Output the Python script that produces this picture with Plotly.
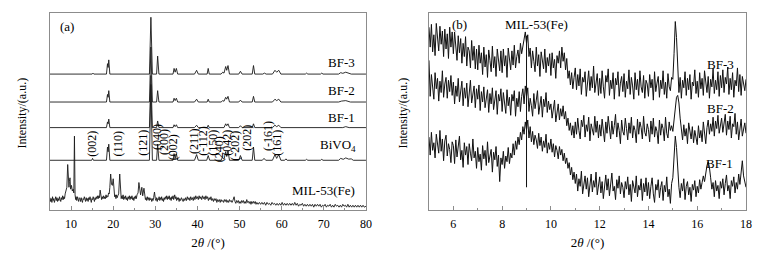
import plotly.graph_objects as go

FONT = "Liberation Serif, Times New Roman, serif"

# ---------------- panel (a): wide-angle XRD, (2theta, intensity above own baseline) ----------------
bf3_a = [(5, 0), (15.0, 0), (15.2, 1), (15.4, 0), (18.4, 0), (18.65, 11), (18.8, 7), (18.95, 15), (19.2, 0),
         (28.6, 0), (28.95, 60), (29.3, 0), (30.3, 0), (30.55, 19), (30.85, 0), (34.2, 0), (34.45, 6), (34.7, 2),
         (35.0, 6), (35.3, 0), (39.3, 0), (39.8, 4), (40.2, 0), (42.3, 0), (42.55, 6), (42.8, 0), (45.6, 0),
         (46.0, 2), (46.3, 1), (46.7, 8), (46.95, 4), (47.25, 9), (47.6, 0), (49.8, 0), (50.2, 3), (50.6, 0),
         (53.0, 0), (53.3, 9), (53.6, 0), (55.5, 0), (55.9, 1), (56.3, 0), (57.8, 0), (58.4, 4), (58.8, 2),
         (59.3, 4), (59.8, 0), (65.6, 0), (65.9, 1), (66.2, 0), (69.2, 0), (69.5, 1), (69.8, 0), (73.5, 0),
         (74.0, 1.5), (74.5, 0.8), (75.2, 2), (75.9, 1.2), (76.5, 0), (80, 0)]
bf2_a = [(5, 0), (18.4, 0), (18.65, 8), (18.8, 5), (18.95, 12), (19.2, 0), (28.6, 0), (28.95, 58), (29.3, 0),
         (30.3, 0), (30.55, 12), (30.85, 0), (34.2, 0), (34.45, 4), (34.7, 1.5), (35.0, 4), (35.3, 0), (39.3, 0),
         (39.8, 3), (40.2, 0), (42.3, 0), (42.55, 3), (42.8, 0), (45.6, 0), (46.0, 1.5), (46.3, 0.8), (46.7, 5),
         (46.95, 3), (47.25, 6), (47.6, 0), (49.8, 0), (50.2, 2), (50.6, 0), (53.0, 0), (53.3, 6), (53.6, 0),
         (57.8, 0), (58.4, 3), (58.8, 1.5), (59.3, 3), (59.8, 0), (73.5, 0), (74.2, 1), (75.2, 1.5), (76.3, 0),
         (80, 0)]
bf1_a = [(5, 0), (18.4, 0), (18.65, 6), (18.8, 4), (18.95, 9), (19.2, 0), (28.6, 0), (28.95, 55), (29.3, 0),
         (30.3, 0), (30.55, 7), (30.85, 0), (34.2, 0), (34.45, 3), (34.7, 1), (35.0, 3), (35.3, 0), (39.3, 0),
         (39.8, 2.5), (40.2, 0), (42.3, 0), (42.55, 2.5), (42.8, 0), (46.3, 0), (46.7, 4), (46.95, 2), (47.25, 4),
         (47.6, 0), (49.8, 0), (50.2, 2), (50.6, 0), (53.0, 0), (53.3, 4), (53.6, 0), (57.8, 0), (58.4, 2.5),
         (58.8, 1), (59.3, 2.5), (59.8, 0), (74.5, 0), (75.2, 1), (76.0, 0), (80, 0)]
bivo4_a = [(5, 0), (14.9, 0), (15.1, 2), (15.3, 0), (18.4, 0), (18.65, 14), (18.8, 9), (18.95, 17), (19.2, 0),
           (28.6, 0), (28.95, 80), (29.3, 0), (30.3, 0), (30.55, 17), (30.85, 0), (34.2, 0), (34.45, 7),
           (34.7, 2), (35.0, 7), (35.3, 0), (39.3, 0), (39.8, 6), (40.2, 0), (42.2, 0), (42.55, 5), (42.9, 0),
           (45.6, 0), (45.9, 3), (46.3, 1), (46.7, 9), (46.95, 4), (47.25, 10), (47.6, 0), (49.8, 0), (50.2, 5),
           (50.6, 0), (53.0, 0), (53.3, 14), (53.6, 0), (55.4, 0), (55.8, 2), (56.2, 0), (57.8, 0), (58.4, 6),
           (58.8, 2), (59.3, 6), (59.8, 0), (60.7, 0), (61.0, 1.5), (61.3, 0), (65.6, 0), (65.9, 1), (66.2, 0),
           (69.2, 0), (69.5, 1), (69.8, 0), (73.5, 0), (74.0, 2), (74.6, 1), (75.2, 2.5), (75.9, 1.2), (76.5, 1.5),
           (77.0, 0), (80, 0)]
mil_a = [(5.0, 13), (5.15, 9), (5.3, 12), (5.45, 8), (5.6, 14), (5.75, 10), (5.9, 12), (6.05, 8), (6.2, 11),
         (6.35, 14), (6.5, 10), (6.65, 13), (6.8, 9), (6.95, 12), (7.1, 10), (7.25, 14), (7.4, 11), (7.55, 9),
         (7.7, 13), (7.85, 11), (8.0, 15), (8.15, 11), (8.3, 14), (8.45, 12), (8.6, 17), (8.8, 20), (9.0, 24),
         (9.2, 48), (9.35, 28), (9.5, 24), (9.6, 30), (9.75, 34), (9.9, 22), (10.1, 26), (10.3, 20), (10.5, 22),
         (10.65, 18), (10.8, 78), (10.95, 16), (11.1, 11), (11.2, 14), (11.35, 10), (11.5, 14), (11.65, 11),
         (11.8, 9), (11.95, 13), (12.1, 12), (12.25, 9), (12.4, 13), (12.55, 10), (12.7, 8), (12.85, 12),
         (13.0, 11), (13.15, 14), (13.3, 12), (13.45, 9), (13.6, 13), (13.75, 10), (13.9, 12), (14.05, 9),
         (14.2, 13), (14.35, 11), (14.5, 14), (14.65, 10), (14.8, 8), (14.95, 12), (15.1, 11), (15.25, 14),
         (15.4, 12), (15.55, 9), (15.7, 13), (15.85, 11), (16.0, 14), (16.15, 12), (16.3, 15), (16.45, 12),
         (16.6, 15), (16.75, 13), (16.9, 21), (17.1, 14), (17.25, 11), (17.4, 14), (17.55, 12), (17.7, 15),
         (17.85, 12), (18.0, 14), (18.15, 12), (18.3, 16), (18.45, 13), (18.6, 15), (18.75, 14), (18.9, 18),
         (19.05, 17), (19.2, 24), (19.4, 38), (19.6, 27), (19.8, 26), (20.0, 33), (20.2, 18), (20.35, 14),
         (20.5, 16), (20.65, 12), (20.8, 16), (20.95, 13), (21.1, 15), (21.3, 17), (21.55, 38), (21.75, 16),
         (21.9, 12), (22.05, 15), (22.2, 12), (22.35, 16), (22.5, 11), (22.65, 14), (22.8, 12), (22.95, 15),
         (23.1, 11), (23.25, 13), (23.4, 10), (23.55, 14), (23.7, 12), (23.85, 15), (24.0, 11), (24.15, 14),
         (24.3, 12), (24.45, 15), (24.6, 11), (24.75, 13), (24.9, 10), (25.05, 14), (25.2, 12), (25.35, 15),
         (25.5, 12), (25.65, 16), (25.9, 18), (26.1, 29), (26.3, 18), (26.5, 16), (26.8, 24), (27.0, 15),
         (27.3, 23), (27.5, 14), (27.65, 11), (27.8, 13), (27.95, 10), (28.1, 14), (28.25, 11), (28.4, 13),
         (28.55, 10), (28.7, 13), (28.85, 11), (29.0, 12), (29.15, 9), (29.3, 12), (29.45, 10), (29.6, 13),
         (29.8, 19), (30.0, 12), (30.15, 10), (30.3, 13), (30.45, 9), (30.6, 12), (30.75, 11), (30.9, 14),
         (31.05, 10), (31.2, 13), (31.35, 11), (31.5, 14), (31.65, 10), (31.8, 12), (31.95, 9), (32.1, 13),
         (32.25, 11), (32.4, 14), (32.55, 12), (32.7, 15), (32.85, 11), (33.0, 14), (33.15, 12), (33.3, 15),
         (33.45, 11), (33.6, 13), (33.75, 10), (33.9, 14), (34.05, 12), (34.2, 15), (34.35, 11), (34.6, 16),
         (34.75, 12), (34.9, 14), (35.05, 10), (35.2, 13), (35.35, 11), (35.5, 13), (35.65, 9), (35.8, 12),
         (36.0, 10), (36.2, 13), (36.4, 11), (36.6, 9), (36.8, 12), (37.0, 10), (37.2, 13), (37.4, 10),
         (37.6, 14), (37.8, 11), (38.0, 13), (38.2, 10), (38.4, 14), (38.6, 11), (38.8, 13), (39.0, 10),
         (39.2, 14), (39.4, 11), (39.6, 15), (39.8, 12), (40.0, 14), (40.2, 11), (40.4, 15), (40.6, 12),
         (40.8, 14), (41.0, 11), (41.2, 15), (41.4, 12), (41.6, 14), (41.8, 11), (42.0, 15), (42.2, 12),
         (42.4, 14), (42.6, 10), (42.8, 13), (43.0, 11), (43.2, 14), (43.4, 10), (43.6, 12), (43.8, 9),
         (44.0, 12), (44.2, 10), (44.4, 12), (44.6, 8), (44.8, 11), (45.0, 9), (45.2, 11), (45.4, 8),
         (45.6, 11), (45.8, 9), (46.0, 10), (46.2, 8), (46.4, 11), (46.6, 9), (46.8, 11), (47.0, 8),
         (47.2, 10), (47.4, 8), (47.6, 11), (47.8, 9), (48.0, 10), (48.2, 8), (48.4, 10), (48.7, 14),
         (48.9, 9), (49.1, 7), (49.3, 10), (49.5, 8), (49.7, 10), (49.9, 7), (50.1, 9), (50.3, 7), (50.5, 10),
         (50.7, 8), (50.9, 10), (51.1, 7), (51.3, 9), (51.5, 7), (51.7, 11), (51.9, 8), (52.1, 9), (52.3, 7),
         (52.5, 9), (52.7, 6), (52.9, 9), (53.1, 7), (53.3, 9), (53.5, 7), (53.7, 9), (53.9, 6), (54.1, 8),
         (54.4, 6), (54.7, 8), (55.0, 6), (55.3, 8), (55.6, 6), (55.9, 8), (56.2, 5), (56.5, 8), (56.8, 6),
         (57.1, 7), (57.4, 5), (57.7, 8), (58.0, 6), (58.3, 7), (58.6, 5), (58.9, 7), (59.2, 5), (59.5, 7),
         (59.8, 5), (60.1, 8), (60.4, 5), (60.7, 7), (61.0, 5), (61.3, 7), (61.6, 5), (61.9, 7), (62.2, 5),
         (62.5, 7), (62.8, 5), (63.1, 8), (63.4, 5), (63.7, 7), (64.0, 4), (64.3, 6), (64.6, 5), (64.9, 7),
         (65.2, 4), (65.5, 6), (65.8, 4), (66.1, 6), (66.4, 4), (66.7, 6), (67.0, 4), (67.3, 6), (67.6, 3),
         (67.9, 6), (68.2, 4), (68.5, 6), (68.8, 4), (69.1, 6), (69.4, 3), (69.7, 5), (70.0, 4), (70.3, 6),
         (70.6, 3), (70.9, 5), (71.2, 4), (71.5, 6), (71.8, 3), (72.1, 5), (72.4, 3), (72.7, 6), (73.0, 4),
         (73.3, 5), (73.6, 3), (73.9, 5), (74.2, 3), (74.5, 6), (74.8, 4), (75.1, 5), (75.4, 3), (75.7, 6),
         (76.0, 3), (76.3, 5), (76.6, 3), (76.9, 5), (77.2, 3), (77.5, 5), (77.8, 3), (78.1, 5), (78.4, 3),
         (78.7, 5), (79.0, 3), (79.3, 5), (79.6, 3), (80.0, 4)]

series_a = [("BF-3", bf3_a, 143.5), ("BF-2", bf2_a, 114), ("BF-1", bf1_a, 87), ("BiVO<sub>4</sub>", bivo4_a, 52.5),
            ("MIL-53(Fe)", mil_a, 0)]

hkl_labels = ["(002)", "(110)", "(121)", "(040)", "(200)", "(002)", "(211)", "(-112)", "(150)", "(240)",
              "(042)", "(-202)", "(202)", "(-161)", "(161)"]
hkl_pos = [(15.0, 70), (21.1, 70), (27.1, 71), (30.4, 77), (32.1, 72), (34.4, 66), (39.2, 73), (41.3, 73),
           (43.7, 71), (45.3, 64), (47.0, 71), (48.7, 68), (51.7, 76), (56.7, 78), (58.9, 71)]

# ---------------- panel (b): low-angle XRD, step 0.05 deg from 5 to 18 ----------------
b_start, b_step = 5.0, 0.05
bf3_b = [193, 172, 196, 167, 185, 163, 197, 179, 168, 194, 175, 189, 162, 191, 170, 186, 160, 193, 172, 188,
         165, 188, 170, 158, 184, 166, 181, 155, 176, 162, 183, 152, 172, 168, 150, 179, 158, 173, 149, 170,
         148, 174, 155, 166, 143, 172, 151, 164, 140, 169, 158, 146, 173, 150, 162, 141, 170, 154, 147, 168,
         145, 170, 152, 163, 140, 171, 157, 148, 168, 153, 174, 150, 162, 169, 155, 176, 165, 172, 180, 188,
         176, 185, 162, 171, 150, 168, 157, 146, 172, 152, 164, 141, 167, 155, 149, 170, 145, 161, 152, 165,
         142, 166, 150, 159, 139, 163, 155, 168, 150, 172, 157, 166, 148, 160, 139, 147, 132, 145, 128, 140,
         150, 127, 143, 131, 149, 122, 140, 135, 146, 120, 138, 147, 126, 141, 129, 152, 124, 137, 144, 121,
         139, 123, 147, 130, 118, 142, 135, 149, 121, 137, 128, 145, 117, 139, 132, 146, 120, 134, 141, 125,
         144, 119, 136, 128, 148, 122, 140, 131, 117, 145, 127, 138, 121, 147, 130, 124, 142, 118, 137, 133,
         120, 143, 129, 138, 116, 146, 125, 134, 141, 119, 137, 128, 147, 122, 135, 118, 144, 130, 126, 140,
         138, 165, 199, 182, 148, 124, 140, 118, 137, 129, 146, 121, 139, 127, 143, 117, 135, 131, 148, 123,
         136, 119, 145, 128, 139, 121, 147, 132, 124, 141, 118, 138, 130, 149, 123, 137, 127, 146, 120, 142,
         129, 148, 124, 140, 133, 151, 122, 139, 127, 145, 119, 137, 131, 150, 125, 143, 121, 141, 134, 126,
         138]
bf2_b = [158, 120, 143, 126, 117, 145, 128, 139, 115, 136, 124, 147, 119, 133, 140, 118, 137, 125, 142, 121,
         135, 112, 131, 120, 139, 114, 127, 136, 110, 129, 118, 134, 109, 126, 137, 113, 124, 131, 108, 128,
         117, 132, 105, 125, 114, 130, 108, 121, 127, 103, 123, 112, 129, 106, 119, 126, 101, 122, 115, 128,
         104, 124, 113, 102, 127, 110, 119, 100, 122, 115, 126, 99, 118, 109, 125, 104, 120, 128, 112, 131,
         120, 129, 104, 118, 110, 99, 123, 107, 116, 126, 101, 114, 120, 98, 117, 109, 124, 103, 115, 106,
         112, 97, 108, 116, 93, 106, 112, 95, 107, 99, 110, 96, 104, 89, 97, 84, 92, 79, 89, 76,
         93, 80, 97, 84, 75, 95, 88, 100, 77, 90, 83, 98, 73, 91, 86, 79, 99, 82, 94, 76,
         90, 78, 96, 85, 72, 93, 81, 99, 87, 75, 94, 80, 89, 101, 77, 92, 84, 70, 95, 83,
         79, 97, 86, 74, 92, 81, 98, 76, 89, 84, 71, 96, 80, 93, 87, 75, 99, 82, 78, 91,
         85, 72, 94, 80, 97, 77, 88, 83, 70, 95, 79, 91, 86, 73, 98, 81, 76, 93, 84, 89,
         83, 95, 110, 119, 121, 113, 97, 82, 74, 90, 78, 86, 70, 92, 80, 75, 88, 71, 84, 77,
         69, 89, 76, 84, 72, 93, 79, 70, 87, 95, 80, 91, 83, 98, 78, 94, 86, 100, 81, 92,
         97, 82, 90, 101, 79, 94, 85, 99, 76, 91, 88, 102, 80, 93, 74, 89, 96, 78, 87, 92,
         81]
bf1_b = [77, 58, 82, 63, 71, 55, 80, 66, 60, 84, 62, 75, 52, 73, 79, 57, 70, 64, 50, 72,
         68, 49, 74, 56, 65, 78, 53, 63, 45, 71, 58, 67, 48, 70, 60, 52, 75, 55, 62, 44,
         66, 51, 59, 42, 68, 54, 63, 47, 72, 50, 57, 64, 40, 61, 53, 67, 46, 58, 30, 55,
         48, 62, 44, 57, 51, 66, 49, 60, 55, 70, 58, 73, 64, 77, 69, 82, 74, 88, 80, 93,
         85, 95, 76, 88, 72, 83, 69, 79, 74, 65, 81, 68, 77, 62, 73, 66, 80, 60, 71, 64,
         75, 61, 70, 56, 68, 63, 54, 67, 58, 64, 52, 60, 49, 55, 44, 50, 37, 45, 32, 40,
         28, 38, 20, 33, 25, 41, 17, 30, 36, 22, 34, 14, 29, 38, 19, 31, 24, 40, 16, 27,
         35, 18, 30, 12, 27, 37, 21, 33, 15, 28, 39, 20, 25, 11, 32, 23, 36, 17, 29, 24,
         13, 30, 22, 35, 16, 27, 9, 31, 24, 18, 36, 14, 26, 21, 33, 10, 28, 19, 34, 15,
         29, 12, 25, 34, 17, 8, 27, 21, 32, 13, 24, 30, 10, 26, 19, 35, 14, 22, 7, 28,
         34, 52, 78, 66, 42, 24, 13, 28, 20, 33, 11, 25, 30, 16, 24, 9, 27, 21, 31, 14,
         25, 18, 32, 22, 29, 36, 30, 40, 47, 51, 45, 34, 22, 29, 14, 31, 20, 26, 12, 30,
         23, 33, 16, 28, 37, 20, 26, 12, 31, 25, 35, 18, 29, 22, 38, 27, 40, 52, 36, 30,
         24]
series_b = [("BF-3", bf3_b), ("BF-2", bf2_b), ("BF-1", bf1_b)]
mil_marker_b = 9.0

fig = go.Figure()
LINE_A = dict(color="#1a1a1a", width=0.9)
LINE_B = dict(color="#111111", width=1)

for name, pts, off in series_a:
    fig.add_trace(go.Scatter(x=[p[0] for p in pts], y=[p[1] + off for p in pts], mode="lines",
                             line=LINE_A, name=name, xaxis="x", yaxis="y", hoverinfo="skip"))

for name, vals in series_b:
    xs = [round(b_start + i * b_step, 2) for i in range(len(vals))]
    fig.add_trace(go.Scatter(x=xs, y=vals, mode="lines", line=LINE_B, name=name,
                             xaxis="x2", yaxis="y2", hoverinfo="skip"))

fig.add_shape(type="line", xref="x2", yref="y2", x0=mil_marker_b, x1=mil_marker_b, y0=24, y1=184,
              line=dict(color="#111111", width=1))

ann = []
def txt(x, y, s, xref, yref, size=13, angle=0, xanchor="center"):
    ann.append(dict(x=x, y=y, text=s, xref=xref, yref=yref, showarrow=False, textangle=angle,
                    xanchor=xanchor, yanchor="middle", font=dict(family=FONT, size=size, color="black")))

txt(9.0, 194, "(a)", "x", "y")
txt(74.1, 156, "BF-3", "x", "y")
txt(74.1, 126, "BF-2", "x", "y")
txt(74.1, 98, "BF-1", "x", "y")
txt(73.3, 68, "BiVO<sub>4</sub>", "x", "y")
txt(70.0, 21, "MIL-53(Fe)", "x", "y")
for lab, (hx, hy) in zip(hkl_labels, hkl_pos):
    txt(hx, hy, lab, "x", "y", size=12, angle=-90)

txt(6.27, 196, "(b)", "x2", "y2")
txt(9.39, 196, "MIL-53(Fe)", "x2", "y2")
txt(16.97, 154, "BF-3", "x2", "y2")
txt(16.97, 107, "BF-2", "x2", "y2")
txt(16.93, 49, "BF-1", "x2", "y2")

txt(-0.0402, 0.49, "Intensity/(a.u.)", "paper", "paper", size=12, angle=-90)
txt(0.5072, 0.49, "Intensity/(a.u.)", "paper", "paper", size=12, angle=-90)

AX = dict(showline=True, mirror=True, linecolor="#8c8c8c", linewidth=1, showgrid=False, zeroline=False)
fig.update_layout(
    width=770, height=260, margin=dict(l=50, r=24, t=13, b=39),
    paper_bgcolor="white", plot_bgcolor="white", showlegend=False,
    font=dict(family=FONT, size=12, color="black"),
    annotations=ann,
    xaxis=dict(domain=[0, 0.454], range=[5, 80], tick0=0, dtick=10, ticks="inside", ticklen=4,
               tickcolor="#8c8c8c", tickfont=dict(size=12), ticklabelstandoff=3,
               minor=dict(ticks="inside", ticklen=2, dtick=5, tickcolor="#8c8c8c"),
               title=dict(text="2<i>θ</i> /(°)", standoff=7, font=dict(size=13)), anchor="y", **AX),
    yaxis=dict(domain=[0, 1], range=[0, 208], showticklabels=False, ticks="", anchor="x", **AX),
    xaxis2=dict(domain=[0.5445, 1], range=[5, 18], tick0=0, dtick=2, ticks="inside", ticklen=4,
                tickcolor="#8c8c8c", tickfont=dict(size=12), ticklabelstandoff=3,
                minor=dict(ticks="inside", ticklen=2, dtick=1, tickcolor="#8c8c8c"),
                title=dict(text="2<i>θ</i> /(°)", standoff=7, font=dict(size=13)), anchor="y2", **AX),
    yaxis2=dict(domain=[0, 1], range=[0, 208], showticklabels=False, ticks="", anchor="x2", **AX),
)

fig.write_html("out.html", config={"displayModeBar": False, "staticPlot": True},
               post_script="document.body.style.margin='0';document.body.style.overflow='hidden';")
